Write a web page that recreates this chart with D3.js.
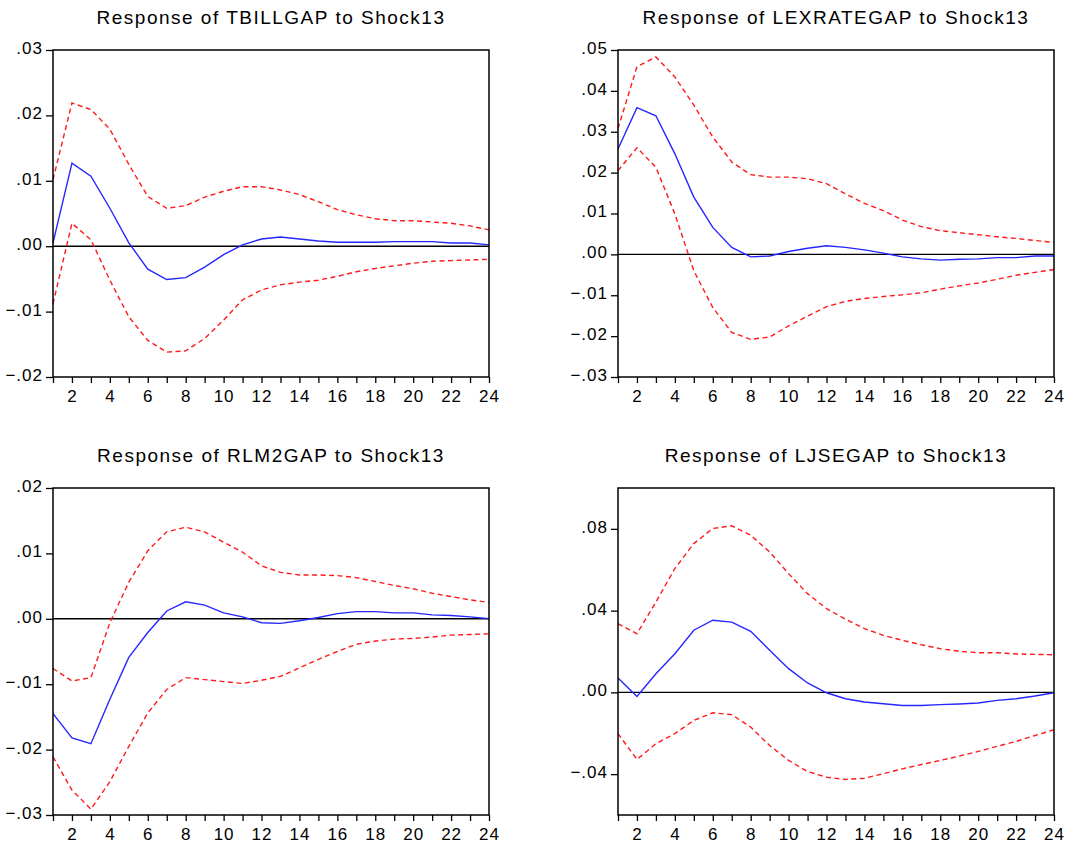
<!DOCTYPE html>
<html>
<head>
<meta charset="utf-8">
<script src="https://cdn.jsdelivr.net/npm/d3@7"></script>
<style>
  body { margin: 0; background: #fff; }
  svg { display: block; }
  text { font-family: "Liberation Sans", Arial, sans-serif; fill: #000; }
</style>
</head>
<body>
<div id="container"></div>
<script>
// periods on the x axis
var periods = [1, 2, 3, 4, 5, 6, 7, 8, 9, 10, 11, 12, 13, 14, 15, 16, 17, 18, 19, 20, 21, 22, 23, 24];
var xLabelTicks = [2, 4, 6, 8, 10, 12, 14, 16, 18, 20, 22, 24];

// TBILLGAP
var tbillResp = [0.0005, 0.0127, 0.0107, 0.0058, 0.0005, -0.0035, -0.0051, -0.0048, -0.0032, -0.0013, 0.0002, 0.0011, 0.0014, 0.0011, 0.0008, 0.0006, 0.0006, 0.0006, 0.0007, 0.0007, 0.0007, 0.0005, 0.0005, 0.0002];
var tbillUpper = [0.0102, 0.0219, 0.0209, 0.0179, 0.0125, 0.0076, 0.0058, 0.0062, 0.0075, 0.0084, 0.0091, 0.0091, 0.0086, 0.0079, 0.0068, 0.0056, 0.0048, 0.0042, 0.0039, 0.0039, 0.0037, 0.0035, 0.0031, 0.0025];
var tbillLower = [-0.0088, 0.0035, 0.0010, -0.0052, -0.0108, -0.0144, -0.0162, -0.0160, -0.0141, -0.0113, -0.0082, -0.0067, -0.0059, -0.0055, -0.0052, -0.0046, -0.0039, -0.0034, -0.0030, -0.0026, -0.0023, -0.0022, -0.0021, -0.0020];

// LEXRATEGAP
var lexResp = [0.0258, 0.0359, 0.0339, 0.0246, 0.0140, 0.0066, 0.0017, -0.0006, -0.0004, 0.0007, 0.0015, 0.0021, 0.0017, 0.0011, 0.0003, -0.0006, -0.0011, -0.0014, -0.0012, -0.0011, -0.0008, -0.0008, -0.0004, -0.0004];
var lexUpper = [0.0308, 0.0459, 0.0483, 0.0434, 0.0365, 0.0287, 0.0226, 0.0195, 0.0189, 0.0189, 0.0185, 0.0173, 0.0148, 0.0125, 0.0107, 0.0084, 0.0068, 0.0058, 0.0053, 0.0048, 0.0043, 0.0039, 0.0034, 0.0029];
var lexLower = [0.0205, 0.0261, 0.0213, 0.0099, -0.0040, -0.0130, -0.0191, -0.0208, -0.0202, -0.0175, -0.0151, -0.0128, -0.0115, -0.0108, -0.0103, -0.0099, -0.0094, -0.0085, -0.0077, -0.0070, -0.0061, -0.0051, -0.0044, -0.0037];

// RLM2GAP
var rlmResp = [-0.0145, -0.0182, -0.0191, -0.0123, -0.0059, -0.0021, 0.0012, 0.0026, 0.0021, 0.0009, 0.0003, -0.0006, -0.0007, -0.0003, 0.0002, 0.0008, 0.0011, 0.0011, 0.0009, 0.0009, 0.0006, 0.0005, 0.0003, 0.0000];
var rlmUpper = [-0.0076, -0.0095, -0.0090, -0.0006, 0.0056, 0.0104, 0.0133, 0.0140, 0.0133, 0.0117, 0.0102, 0.0081, 0.0071, 0.0067, 0.0067, 0.0066, 0.0063, 0.0057, 0.0051, 0.0046, 0.0039, 0.0034, 0.0029, 0.0025];
var rlmLower = [-0.0211, -0.0262, -0.0291, -0.0249, -0.0195, -0.0144, -0.0108, -0.0090, -0.0093, -0.0096, -0.0099, -0.0094, -0.0088, -0.0075, -0.0062, -0.0050, -0.0039, -0.0034, -0.0031, -0.0030, -0.0028, -0.0025, -0.0024, -0.0023];

// LJSEGAP
var ljseResp = [0.0070, -0.0020, 0.0091, 0.0189, 0.0304, 0.0353, 0.0344, 0.0299, 0.0206, 0.0116, 0.0046, -0.0002, -0.0031, -0.0047, -0.0056, -0.0064, -0.0064, -0.0060, -0.0057, -0.0052, -0.0039, -0.0031, -0.0018, -0.0002];
var ljseUpper = [0.0336, 0.0287, 0.0442, 0.0606, 0.0728, 0.0802, 0.0815, 0.0769, 0.0687, 0.0581, 0.0483, 0.0410, 0.0358, 0.0312, 0.0279, 0.0255, 0.0233, 0.0214, 0.0201, 0.0194, 0.0194, 0.0188, 0.0186, 0.0184];
var ljseLower = [-0.0202, -0.0328, -0.0251, -0.0202, -0.0137, -0.0100, -0.0109, -0.0170, -0.0260, -0.0333, -0.0387, -0.0415, -0.0426, -0.0420, -0.0398, -0.0374, -0.0353, -0.0333, -0.0312, -0.0289, -0.0264, -0.0240, -0.0211, -0.0183];

// titles, y ranges and y tick values
var titles = ["Response of TBILLGAP to Shock13", "Response of LEXRATEGAP to Shock13", "Response of RLM2GAP to Shock13", "Response of LJSEGAP to Shock13"];
var yDomains = [[-0.02, 0.03], [-0.03, 0.05], [-0.03, 0.02], [-0.06, 0.10]];
var yTickValues = [
  [-0.02, -0.01, 0, 0.01, 0.02, 0.03],
  [-0.03, -0.02, -0.01, 0, 0.01, 0.02, 0.03, 0.04, 0.05],
  [-0.03, -0.02, -0.01, 0, 0.01, 0.02],
  [-0.04, 0, 0.04, 0.08]
];

var panels = [
  { title: titles[0], resp: tbillResp, upper: tbillUpper, lower: tbillLower, domain: yDomains[0], ticks: yTickValues[0], left: 53, top: 50 },
  { title: titles[1], resp: lexResp, upper: lexUpper, lower: lexLower, domain: yDomains[1], ticks: yTickValues[1], left: 618, top: 50 },
  { title: titles[2], resp: rlmResp, upper: rlmUpper, lower: rlmLower, domain: yDomains[2], ticks: yTickValues[2], left: 53, top: 488 },
  { title: titles[3], resp: ljseResp, upper: ljseUpper, lower: ljseLower, domain: yDomains[3], ticks: yTickValues[3], left: 618, top: 488 }
];

var width = 436,
  height = 327;

var svg = d3
  .select("#container")
  .append("svg")
  .attr("width", 1065)
  .attr("height", 847);

// ".03" style labels, no leading zero
var fmt = function (d) {
  return d3.format(".2f")(d).replace("0.", ".");
};

var drawPanel = function (p) {
  var g = svg
    .append("g")
    .attr("transform", "translate(" + p.left + "," + p.top + ")");

  var x = d3.scaleLinear().domain([1, 24]).range([0, width]);
  var y = d3.scaleLinear().domain(p.domain).range([height, 0]);

  // title
  g.append("text")
    .attr("x", width / 2)
    .attr("y", -26)
    .attr("text-anchor", "middle")
    .style("font-size", "19px")
    .style("letter-spacing", "1.5px")
    .text(p.title);

  // x axis
  var xAxis = g
    .append("g")
    .attr("transform", "translate(0," + height + ")")
    .call(
      d3.axisBottom(x)
        .tickValues(periods)
        .tickSize(6)
        .tickFormat(function (d) {
          return xLabelTicks.indexOf(d) >= 0 ? d : "";
        })
    );
  xAxis.select(".domain").remove();
  xAxis.selectAll("line").attr("stroke", "#000").attr("stroke-width", 1.3);
  xAxis
    .selectAll("text")
    .attr("dy", "0.95em")
    .style("font-size", "17px")
    .style("letter-spacing", "1px")
    .attr("fill", "#000");

  // y axis
  var yAxis = g
    .append("g")
    .call(d3.axisLeft(y).tickValues(p.ticks).tickSize(7).tickFormat(fmt));
  yAxis.select(".domain").remove();
  yAxis.selectAll("line").attr("stroke", "#000").attr("stroke-width", 1.3);
  yAxis
    .selectAll("text")
    .attr("x", -10)
    .attr("dy", "0.2em")
    .style("font-size", "17px")
    .style("letter-spacing", "1px")
    .attr("fill", "#000");

  // zero line
  g.append("line")
    .attr("x1", 0)
    .attr("x2", width)
    .attr("y1", y(0))
    .attr("y2", y(0))
    .attr("stroke", "#000")
    .attr("stroke-width", 1.4);

  var line = d3
    .line()
    .x(function (d, i) {
      return x(periods[i]);
    })
    .y(function (d) {
      return y(d);
    });

  // error bands
  [p.upper, p.lower].forEach(function (band) {
    g.append("path")
      .datum(band)
      .attr("d", line)
      .attr("fill", "none")
      .attr("stroke", "#ff1a1a")
      .attr("stroke-width", 1.4)
      .attr("stroke-dasharray", "5,3.5");
  });

  // response
  g.append("path")
    .datum(p.resp)
    .attr("d", line)
    .attr("fill", "none")
    .attr("stroke", "#2626ff")
    .attr("stroke-width", 1.4);

  // frame
  g.append("rect")
    .attr("width", width)
    .attr("height", height)
    .attr("fill", "none")
    .attr("stroke", "#000")
    .attr("stroke-width", 1.5);
};

panels.forEach(drawPanel);
</script>
</body>
</html>
